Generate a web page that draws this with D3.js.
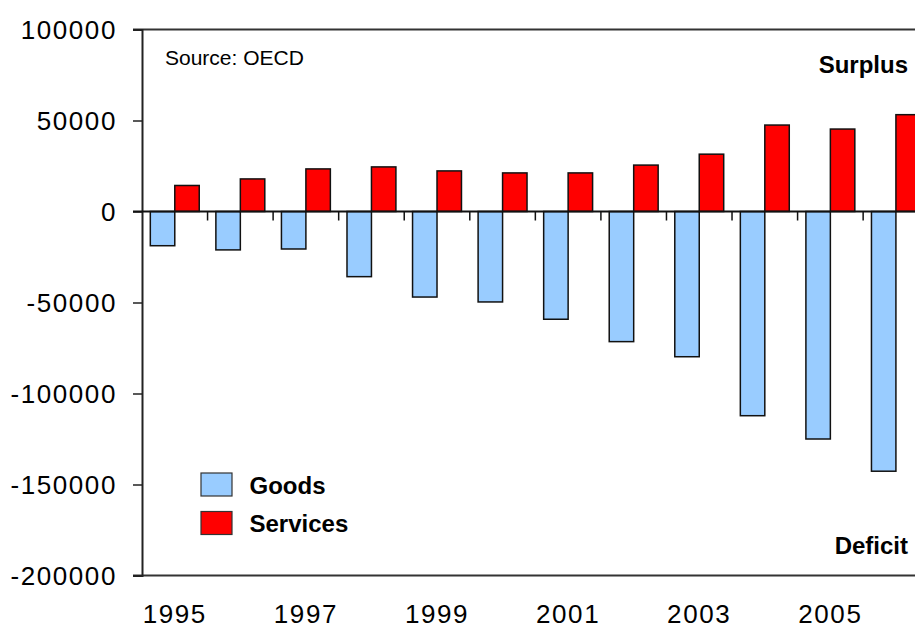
<!DOCTYPE html>
<html>
<head>
<meta charset="utf-8">
<script src="https://cdn.jsdelivr.net/npm/d3@7"></script>
<style>
  html, body { margin: 0; padding: 0; background: #fff; overflow: hidden; }
  svg { display: block; font-family: Arial, "Liberation Sans", sans-serif; }
</style>
</head>
<body>
<svg id="chart" width="915" height="629"></svg>
<script>
// Trade balance by year (goods vs services)
const years = [1995, 1996, 1997, 1998, 1999, 2000, 2001, 2002, 2003, 2004, 2005, 2006];
const goods = [-18800, -21100, -20600, -35800, -47000, -49700, -59200, -71500, -79800, -112200, -125000, -142700];
const services = [14300, 17900, 23400, 24500, 22300, 21200, 21200, 25500, 31500, 47500, 45300, 53200];
const seriesNames = ["Goods", "Services"];
const seriesColors = ["#99CCFF", "#FF0000"];
const yTicks = [100000, 50000, 0, -50000, -100000, -150000, -200000];
const xLabelYears = [1995, 1997, 1999, 2001, 2003, 2005];

const svg = d3.select("#chart");
const margin = { left: 142, top: 29.5 };
const plotW = 786.7, plotH = 546;

const x = d3.scaleBand().domain(years).range([margin.left, margin.left + plotW])
  .paddingInner(0).paddingOuter(0);
const inner = d3.scaleBand().domain(seriesNames).range([0, x.bandwidth()])
  .paddingInner(0).paddingOuter(0.34);
const y = d3.scaleLinear().domain([-200000, 100000]).range([margin.top + plotH, margin.top]);

const rows = years.map((yr, i) => ({ year: yr, values: [goods[i], services[i]] }));

// bars
const groups = svg.append("g").selectAll("g").data(rows).join("g")
  .attr("transform", d => `translate(${x(d.year)},0)`);
groups.selectAll("rect").data(d => d.values.map((v, k) => ({ v, k })))
  .join("rect")
  .attr("x", d => inner(seriesNames[d.k]))
  .attr("width", inner.bandwidth())
  .attr("y", d => y(Math.max(0, d.v)))
  .attr("height", d => Math.abs(y(d.v) - y(0)))
  .attr("fill", d => seriesColors[d.k])
  .attr("stroke", "#111")
  .attr("stroke-width", 1.5);

// frame: top and bottom rules, left axis
const axisColor = "#222";
svg.append("line").attr("x1", margin.left - 9).attr("x2", 915)
  .attr("y1", y(100000)).attr("y2", y(100000)).attr("stroke", "#333").attr("stroke-width", 2);
svg.append("line").attr("x1", margin.left - 9).attr("x2", 915)
  .attr("y1", y(-200000)).attr("y2", y(-200000)).attr("stroke", "#333").attr("stroke-width", 2);

const yAxis = d3.axisLeft(y).tickValues(yTicks).tickSize(9).tickPadding(16)
  .tickFormat(d => String(d));
const yg = svg.append("g").attr("transform", `translate(${margin.left},0)`).call(yAxis);
yg.select(".domain").attr("stroke", axisColor).attr("stroke-width", 2);
yg.selectAll(".tick line").attr("stroke", axisColor).attr("stroke-width", 1.5);
yg.selectAll(".tick text").attr("font-size", 26).attr("fill", "#000")
  .attr("font-family", "Arial, 'Liberation Sans', sans-serif").attr("dy", "0.36em")
  .attr("letter-spacing", 1.6);

// zero line with category ticks
svg.append("line").attr("x1", margin.left - 9).attr("x2", 915)
  .attr("y1", y(0)).attr("y2", y(0)).attr("stroke", "#111").attr("stroke-width", 2);
svg.append("g").selectAll("line").data(years.slice(1)).join("line")
  .attr("x1", d => x(d)).attr("x2", d => x(d))
  .attr("y1", y(0)).attr("y2", y(0) + 9)
  .attr("stroke", "#111").attr("stroke-width", 1.5);

// year labels
svg.append("g").selectAll("text").data(xLabelYears).join("text")
  .attr("x", d => x(d) + x.bandwidth() / 2)
  .attr("y", 623)
  .attr("text-anchor", "middle")
  .attr("font-size", 26)
  .attr("letter-spacing", 1.6)
  .text(d => d);

// annotations
svg.append("text").attr("x", 165).attr("y", 65).attr("font-size", 21).text("Source: OECD");
svg.append("text").attr("x", 908).attr("y", 73).attr("text-anchor", "end")
  .attr("font-size", 24).attr("font-weight", "bold").text("Surplus");
svg.append("text").attr("x", 908).attr("y", 554).attr("text-anchor", "end")
  .attr("font-size", 24).attr("font-weight", "bold").text("Deficit");

// legend
const legend = svg.append("g").attr("transform", "translate(201,473)");
seriesNames.forEach((name, i) => {
  const g = legend.append("g").attr("transform", `translate(0,${i * 38.5})`);
  g.append("rect").attr("width", 31).attr("height", 23)
    .attr("fill", seriesColors[i]).attr("stroke", "#333").attr("stroke-width", 1.2);
  g.append("text").attr("x", 48.5).attr("y", 20.5).attr("font-size", 24)
    .attr("font-weight", "bold").text(name);
});
</script>
</body>
</html>
